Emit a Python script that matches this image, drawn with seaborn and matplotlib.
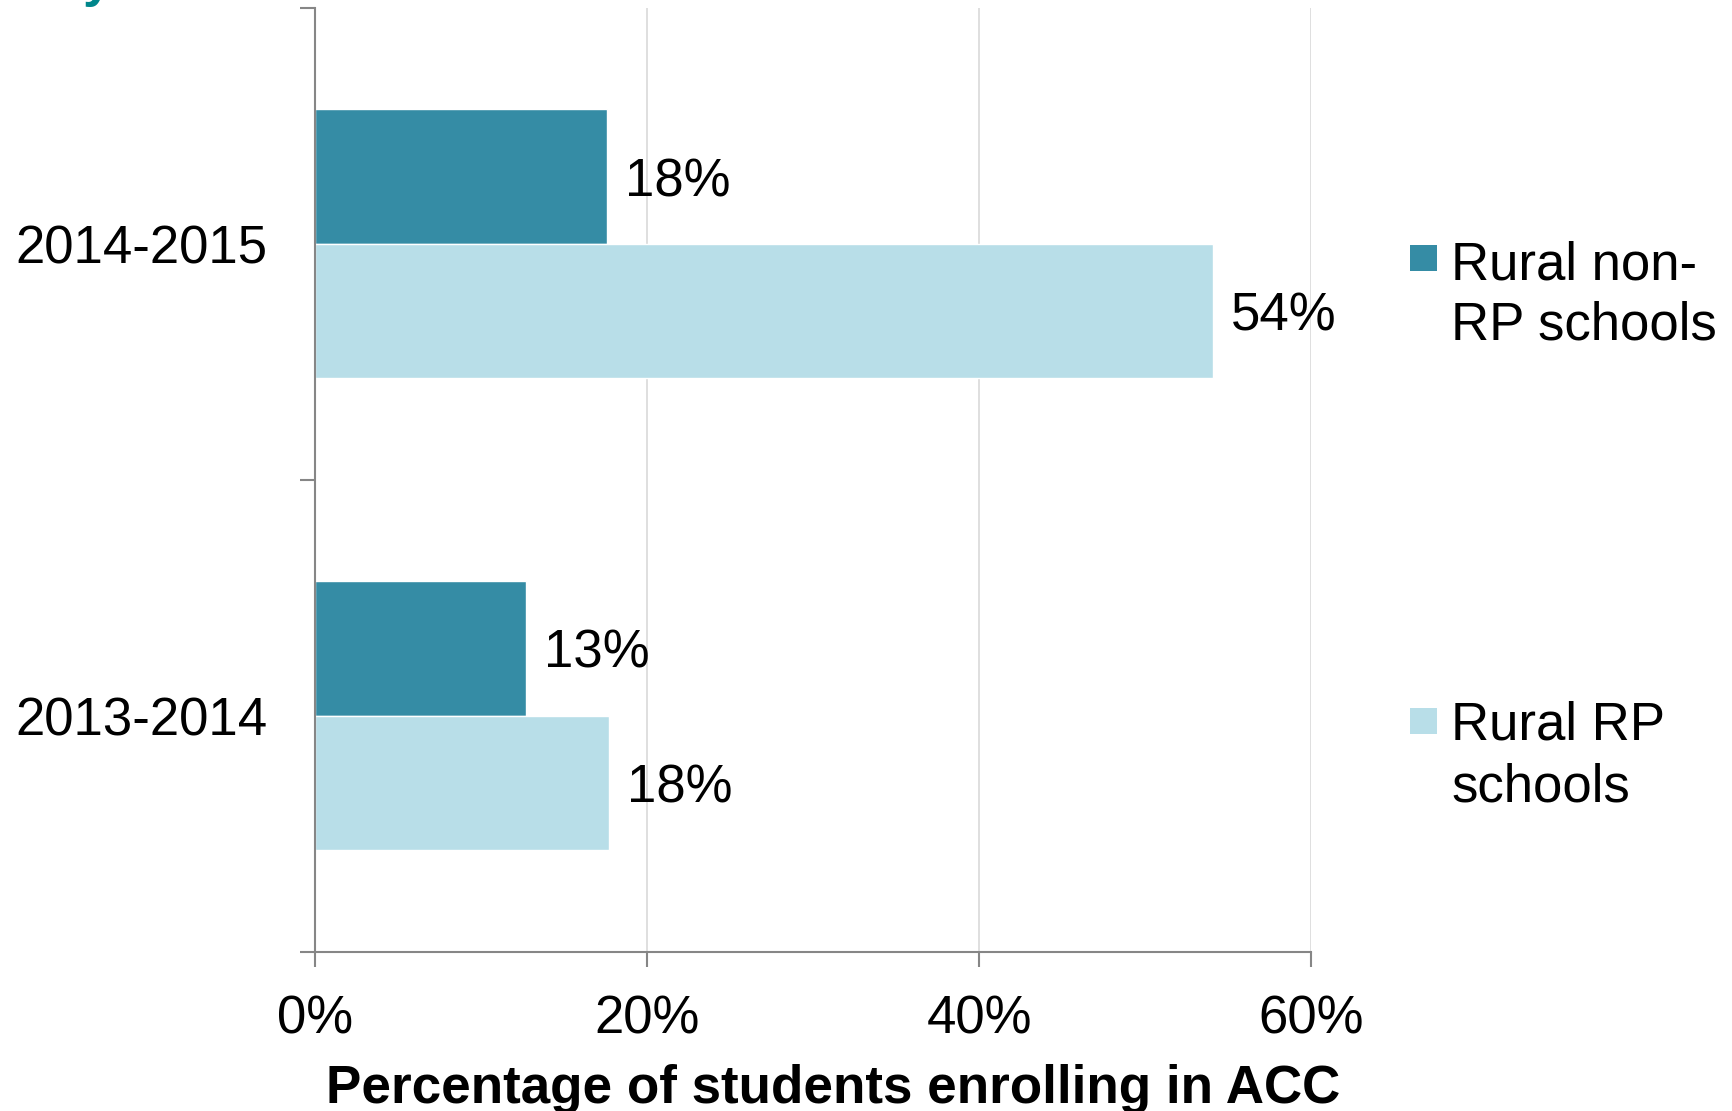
import pandas as pd
import matplotlib
matplotlib.use('Agg')
import matplotlib.pyplot as plt
from matplotlib.patches import Rectangle
import seaborn as sns

# chart data
years = ['2014-2015', '2013-2014']
non_rp = [0.176, 0.127]
rp = [0.541, 0.177]
series_names = ['Rural non-RP schools', 'Rural RP schools']
legend_lines = [['Rural non-', 'RP schools'], ['Rural RP', 'schools']]
colors = ['#358CA5', '#B8DEE8']
xticks = [0, 0.2, 0.4, 0.6]

df = pd.DataFrame({
    'year': years * 2,
    'value': non_rp + rp,
    'school': [series_names[0]] * len(years) + [series_names[1]] * len(years),
})

sns.set_theme(style='white')
plt.rcParams['font.family'] = ['Liberation Sans', 'DejaVu Sans']

fig = plt.figure(figsize=(17.33, 11.11), dpi=100)
ax = fig.add_axes([315 / 1733, 1 - 951.5 / 1111, 996 / 1733, 943.5 / 1111])

sns.barplot(data=df, y='year', x='value', hue='school', order=years,
            hue_order=series_names, palette=colors, width=0.57,
            saturation=1, legend=False, ax=ax)

# data labels
for cont, vals in zip(ax.containers, [non_rp, rp]):
    txts = ax.bar_label(cont, labels=[f'{v * 100:.0f}%' for v in vals],
                        padding=13, fontsize=38, color='black')
    for t in txts:
        t.set_va('center_baseline')

ax.set_xlim(0, 0.6)
ax.set_ylim(1.5, -0.5)
ax.set_xticks(xticks)
ax.set_xticklabels([f'{round(t * 100)}%' for t in xticks])
ax.xaxis.grid(True, color='#D9D9D9', lw=1.2)
ax.yaxis.grid(False)
ax.set_axisbelow(True)

for s in ['top', 'right']:
    ax.spines[s].set_visible(False)
for s in ['left', 'bottom']:
    ax.spines[s].set_color('#868686')
    ax.spines[s].set_linewidth(1.5)

ax.set_yticks([-0.5, 0.5, 1.5], minor=True)
ax.tick_params(axis='y', which='major', length=0, pad=34, labelsize=38,
               labelcolor='black')
ax.tick_params(axis='y', which='minor', length=11, width=1.5,
               color='#868686', direction='out', left=True)
ax.tick_params(axis='x', which='major', length=11, width=1.5,
               color='#868686', direction='out', bottom=True, pad=20,
               labelsize=38, labelcolor='black')

ax.set_ylabel('')
ax.set_xlabel('Percentage of students enrolling in ACC', fontsize=38.2,
              fontweight='bold', color='black')
ax.xaxis.set_label_coords(0.52, -0.119)

# legend, drawn by hand to match the wrapped layout
W, H = 1733, 1111
for col, lines, top, base in zip(colors, legend_lines, [245, 708], [279, 740]):
    fig.add_artist(Rectangle((1410 / W, 1 - (top + 26) / H), 27 / W, 26 / H,
                             transform=fig.transFigure, color=col, lw=0))
    for i, line in enumerate(lines):
        fig.text(1451 / W, 1 - (base + i * 61) / H, line, fontsize=38,
                 va='baseline', ha='left', color='black')

# cut-off title fragment at the top edge
fig.text(83 / W, 1 + 4 / H, 'y', fontsize=38, fontweight='bold',
         color='#00868B', va='baseline', ha='left')

fig.savefig('out.png', dpi=100)
